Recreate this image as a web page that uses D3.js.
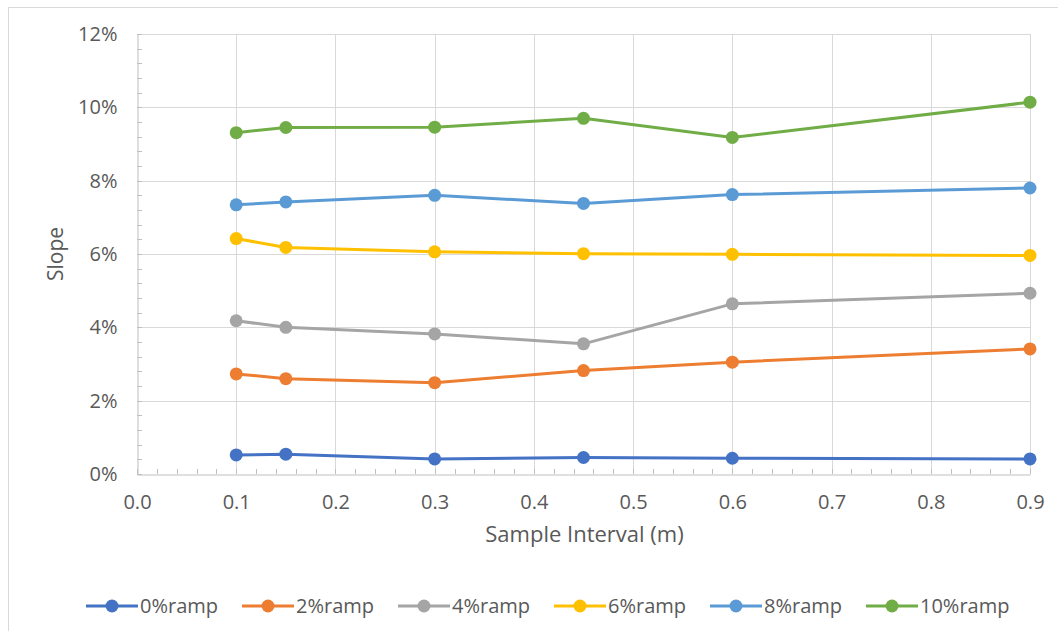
<!DOCTYPE html>
<html>
<head>
<meta charset="utf-8">
<script src="https://cdn.jsdelivr.net/npm/d3@7"></script>
<style>
  html, body { margin: 0; padding: 0; background: #fff; }
  svg { display: block; }
  text { font-family: "Open Sans", "Noto Sans", sans-serif; fill: #595959; }
</style>
</head>
<body>
<svg id="chart" width="1058" height="631"></svg>
<script>
// Chart data
const intervals = [0.1, 0.15, 0.3, 0.45, 0.6, 0.9];
const seriesNames = ["0%ramp", "2%ramp", "4%ramp", "6%ramp", "8%ramp", "10%ramp"];
const ramp0 = [0.0052, 0.0054, 0.0041, 0.0045, 0.0043, 0.0041];
const ramp2 = [0.0273, 0.0260, 0.0249, 0.0282, 0.0305, 0.0341];
const ramp4 = [0.0418, 0.0400, 0.0382, 0.0355, 0.0464, 0.0493];
const ramp6 = [0.0642, 0.0618, 0.0606, 0.0601, 0.0599, 0.0596];
const ramp8 = [0.0734, 0.0742, 0.0760, 0.0738, 0.0762, 0.0780];
const ramp10 = [0.0931, 0.0945, 0.0946, 0.0970, 0.0918, 0.1014];
const xTicks = [0, 0.1, 0.2, 0.3, 0.4, 0.5, 0.6, 0.7, 0.8, 0.9];
const yTicks = [0, 0.02, 0.04, 0.06, 0.08, 0.10, 0.12];
const colors = ["#4472C4", "#ED7D31", "#A5A5A5", "#FFC000", "#5B9BD5", "#70AD47"];

const series = [ramp0, ramp2, ramp4, ramp6, ramp8, ramp10].map((vals, i) => ({
    name: seriesNames[i],
    color: colors[i],
    points: vals.map((v, j) => ({ x: intervals[j], y: v }))
}));

const svg = d3.select("#chart");
const width = 1058;
const height = 631;
const margin = { top: 34, right: 28, bottom: 157, left: 137 };

// chart area border (cut off at right/bottom)
svg.append("rect")
    .attr("x", 8.5).attr("y", 7.5)
    .attr("width", 1100).attr("height", 700)
    .attr("fill", "none")
    .attr("stroke", "#d9d9d9");

const xScale = d3.scaleLinear()
    .domain([0, 0.9])
    .range([margin.left, width - margin.right]);

const yScale = d3.scaleLinear()
    .domain([0, 0.12])
    .range([height - margin.bottom, margin.top]);

// gridlines
svg.append("g")
    .selectAll("line")
    .data(yTicks.slice(1))
    .enter().append("line")
    .attr("x1", xScale(0)).attr("x2", xScale(0.9))
    .attr("y1", d => Math.round(yScale(d)) + 0.5)
    .attr("y2", d => Math.round(yScale(d)) + 0.5)
    .attr("stroke", "#d9d9d9");

svg.append("g")
    .selectAll("line")
    .data(xTicks.slice(1))
    .enter().append("line")
    .attr("x1", d => Math.round(xScale(d)) + 0.5)
    .attr("x2", d => Math.round(xScale(d)) + 0.5)
    .attr("y1", yScale(0.12)).attr("y2", yScale(0))
    .attr("stroke", "#d9d9d9");

// minor ticks
const xMinor = d3.range(0, 46).map(i => i * 0.02).filter(d => d <= 0.9001);
svg.append("g")
    .selectAll("line")
    .data(xMinor)
    .enter().append("line")
    .attr("x1", d => Math.round(xScale(d)) + 0.5)
    .attr("x2", d => Math.round(xScale(d)) + 0.5)
    .attr("y1", yScale(0) - 5).attr("y2", yScale(0))
    .attr("stroke", "#bfbfbf");

const yMinor = d3.range(0, 31).map(i => i * 0.004);
svg.append("g")
    .selectAll("line")
    .data(yMinor)
    .enter().append("line")
    .attr("x1", xScale(0)).attr("x2", xScale(0) + 5)
    .attr("y1", d => Math.round(yScale(d)) + 0.5)
    .attr("y2", d => Math.round(yScale(d)) + 0.5)
    .attr("stroke", "#bfbfbf");

// axes
const xAxis = svg.append("g")
    .attr("transform", `translate(0,${Math.round(yScale(0)) + 0.5})`)
    .call(d3.axisBottom(xScale).tickValues(xTicks).tickFormat(d3.format(".1f")).tickSize(0).tickPadding(20));
xAxis.select(".domain").attr("stroke", "#bfbfbf");
xAxis.selectAll("text").style("font-size", "20px").attr("fill", "#595959");

const yAxis = svg.append("g")
    .attr("transform", `translate(${Math.round(xScale(0)) + 0.5},0)`)
    .call(d3.axisLeft(yScale).tickValues(yTicks).tickFormat(d3.format(".0%")).tickSize(0).tickPadding(20));
yAxis.select(".domain").attr("stroke", "#bfbfbf");
yAxis.selectAll("text").style("font-size", "20px").attr("fill", "#595959");

// axis titles
svg.append("text")
    .attr("x", (xScale(0) + xScale(0.9)) / 2 + 1)
    .attr("y", 542)
    .attr("text-anchor", "middle")
    .style("font-size", "22px")
    .text("Sample Interval (m)");

svg.append("text")
    .attr("transform", `translate(63,${(yScale(0) + yScale(0.12)) / 2}) rotate(-90)`)
    .attr("text-anchor", "middle")
    .style("font-size", "21px")
    .text("Slope");

// lines and markers
const line = d3.line()
    .x(d => xScale(d.x))
    .y(d => yScale(d.y));

const groups = svg.append("g")
    .selectAll("g")
    .data(series)
    .enter().append("g");

groups.append("path")
    .attr("d", d => line(d.points))
    .attr("fill", "none")
    .attr("stroke", d => d.color)
    .attr("stroke-width", 3)
    .attr("stroke-linejoin", "round");

groups.selectAll("circle")
    .data(d => d.points.map(p => ({ ...p, color: d.color })))
    .enter().append("circle")
    .attr("cx", d => xScale(d.x))
    .attr("cy", d => yScale(d.y))
    .attr("r", 6.5)
    .attr("fill", d => d.color);

// legend
const legendX = d3.scalePoint()
    .domain(seriesNames)
    .range([86, 866]);

const legend = svg.append("g")
    .selectAll("g")
    .data(series)
    .enter().append("g")
    .attr("transform", d => `translate(${legendX(d.name)},606)`);

legend.append("line")
    .attr("x1", 0).attr("x2", 52)
    .attr("stroke", d => d.color)
    .attr("stroke-width", 3);

legend.append("circle")
    .attr("cx", 26).attr("r", 6.5)
    .attr("fill", d => d.color);

legend.append("text")
    .attr("x", 54)
    .attr("dy", "0.35em")
    .style("font-size", "20px")
    .text(d => d.name);
</script>
</body>
</html>
